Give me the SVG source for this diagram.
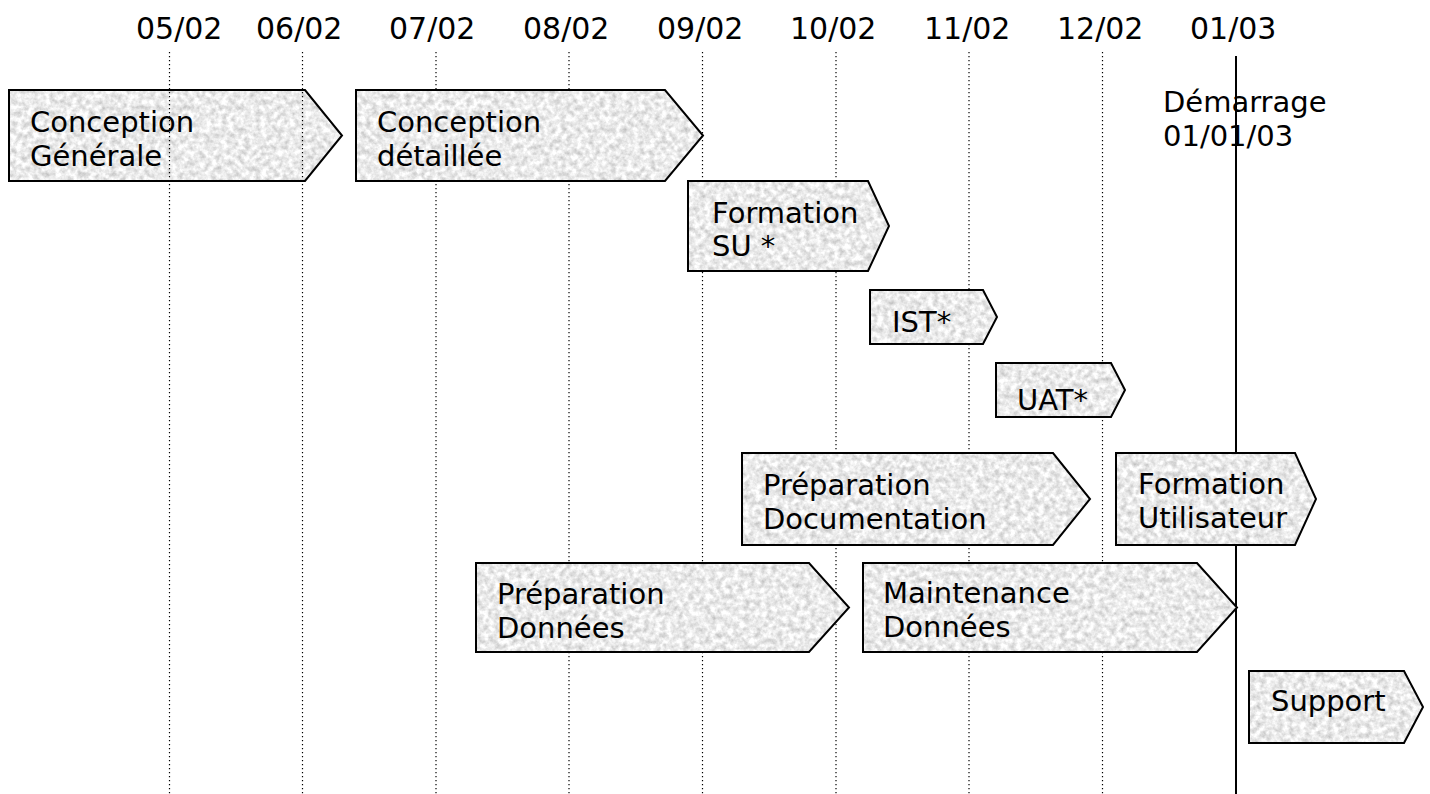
<svg xmlns="http://www.w3.org/2000/svg" width="1430" height="794" viewBox="0 0 1430 794">
<style>
text{font-family:"DejaVu Sans","Verdana",sans-serif;fill:#000}
.lbl{font-size:29px}
.date{font-size:30px}
.box{fill:#ececec;stroke:none}
.out{fill:none;stroke:#000;stroke-width:2}
.grid{stroke:#000;stroke-width:1.2;stroke-dasharray:1.2 2.8}
.now{stroke:#000;stroke-width:2}
</style>
<defs>
<filter id="granite" x="0" y="0" width="100%" height="100%" color-interpolation-filters="sRGB">
<feTurbulence type="fractalNoise" baseFrequency="0.18" numOctaves="3" seed="7" result="n"/>
<feColorMatrix in="n" type="matrix" values="0.4 0 0 0 0.72  0.4 0 0 0 0.72  0.4 0 0 0 0.72  0 0 0 0 1" result="g"/>
<feComposite in="g" in2="SourceGraphic" operator="in"/>
</filter>
</defs>
<rect width="1430" height="794" fill="#fff"/>
<g id="dates">
<text class="date" x="136" y="39">05/02</text>
<text class="date" x="256" y="39">06/02</text>
<text class="date" x="389" y="39">07/02</text>
<text class="date" x="523" y="39">08/02</text>
<text class="date" x="657" y="39">09/02</text>
<text class="date" x="790" y="39">10/02</text>
<text class="date" x="924" y="39">11/02</text>
<text class="date" x="1057" y="39">12/02</text>
<text class="date" x="1190" y="39">01/03</text>
</g>
<g id="n-conception-generale">
<polygon class="box" filter="url(#granite)" points="9,90 305,90 342,135.5 305,181 9,181"/>
<polygon class="out" points="9,90 305,90 342,135.5 305,181 9,181"/>
<text class="lbl" x="30" y="132">Conception</text>
<text class="lbl" x="30" y="166">Générale</text>
</g>
<g id="connectors">
<line class="grid" x1="169.5" y1="52" x2="169.5" y2="794"/>
<line class="grid" x1="302.5" y1="52" x2="302.5" y2="794"/>
<line class="grid" x1="436" y1="52" x2="436" y2="794"/>
<line class="grid" x1="569" y1="52" x2="569" y2="794"/>
<line class="grid" x1="702.5" y1="52" x2="702.5" y2="794"/>
<line class="grid" x1="836" y1="52" x2="836" y2="794"/>
<line class="grid" x1="969" y1="52" x2="969" y2="794"/>
<line class="grid" x1="1102.5" y1="52" x2="1102.5" y2="794"/>
<line class="now" x1="1236" y1="56" x2="1236" y2="794"/>
</g>
<g id="n-demarrage">
<text class="lbl" x="1163" y="112">Démarrage</text>
<text class="lbl" x="1163" y="146">01/01/03</text>
</g>
<g id="n-conception-detaillee">
<polygon class="box" filter="url(#granite)" points="356,90 665,90 703,135.5 665,181 356,181"/>
<polygon class="out" points="356,90 665,90 703,135.5 665,181 356,181"/>
<text class="lbl" x="377" y="132">Conception</text>
<text class="lbl" x="377" y="166">détaillée</text>
</g>
<g id="n-formation-su">
<polygon class="box" filter="url(#granite)" points="688,181 868,181 889,226 868,271 688,271"/>
<polygon class="out" points="688,181 868,181 889,226 868,271 688,271"/>
<text class="lbl" x="712" y="223">Formation</text>
<text class="lbl" x="712" y="256">SU *</text>
</g>
<g id="n-ist">
<polygon class="box" filter="url(#granite)" points="870,290 983,290 997,317 983,344 870,344"/>
<polygon class="out" points="870,290 983,290 997,317 983,344 870,344"/>
<text class="lbl" x="892" y="332">IST*</text>
</g>
<g id="n-uat">
<polygon class="box" filter="url(#granite)" points="996,363 1111,363 1125,390 1111,417 996,417"/>
<polygon class="out" points="996,363 1111,363 1125,390 1111,417 996,417"/>
<text class="lbl" x="1017" y="410">UAT*</text>
</g>
<g id="n-preparation-documentation">
<polygon class="box" filter="url(#granite)" points="742,453 1053,453 1090,499 1053,545 742,545"/>
<polygon class="out" points="742,453 1053,453 1090,499 1053,545 742,545"/>
<text class="lbl" x="763" y="495">Préparation</text>
<text class="lbl" x="763" y="529">Documentation</text>
</g>
<g id="n-formation-utilisateur">
<polygon class="box" filter="url(#granite)" points="1116,453 1295,453 1316,499 1295,545 1116,545"/>
<polygon class="out" points="1116,453 1295,453 1316,499 1295,545 1116,545"/>
<text class="lbl" x="1138" y="494">Formation</text>
<text class="lbl" x="1138" y="528">Utilisateur</text>
</g>
<g id="n-preparation-donnees">
<polygon class="box" filter="url(#granite)" points="476,563 809,563 849,607.5 809,652 476,652"/>
<polygon class="out" points="476,563 809,563 849,607.5 809,652 476,652"/>
<text class="lbl" x="497" y="604">Préparation</text>
<text class="lbl" x="497" y="638">Données</text>
</g>
<g id="n-maintenance-donnees">
<polygon class="box" filter="url(#granite)" points="863,563 1197,563 1237,607.5 1197,652 863,652"/>
<polygon class="out" points="863,563 1197,563 1237,607.5 1197,652 863,652"/>
<text class="lbl" x="883" y="603">Maintenance</text>
<text class="lbl" x="883" y="637">Données</text>
</g>
<g id="n-support">
<polygon class="box" filter="url(#granite)" points="1249,671 1404,671 1423,707 1404,743 1249,743"/>
<polygon class="out" points="1249,671 1404,671 1423,707 1404,743 1249,743"/>
<text class="lbl" x="1271" y="711">Support</text>
</g>
</svg>
